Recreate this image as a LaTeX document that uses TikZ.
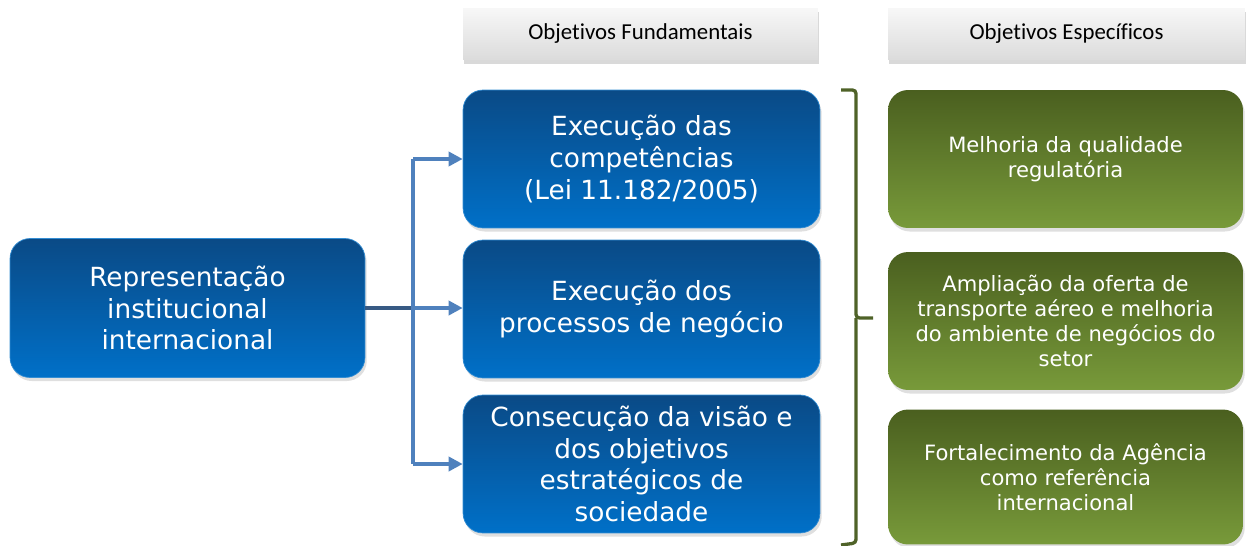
\documentclass[tikz,border=0pt]{standalone}
\usepackage{fontspec}
\setmainfont{DejaVu Sans}
\newfontfamily\headfont[Ligatures=NoCommon]{Carlito}
\usetikzlibrary{positioning,shadows,arrows.meta}

\definecolor{bluetop}{HTML}{0A4A86}
\definecolor{bluebot}{HTML}{0070C8}
\definecolor{greentop}{HTML}{4A5F1F}
\definecolor{greenbot}{HTML}{789A3A}
\definecolor{linkblue}{HTML}{4F81BD}
\definecolor{bracegreen}{HTML}{4F6228}

\tikzset{
  bluebox/.style={rounded corners=0.4cm, top color=bluetop, bottom color=bluebot,
    draw=bluebot!80!white, text=white, align=center, font=\fontsize{15}{18}\selectfont,
    minimum width=7.14cm, minimum height=2.76cm, inner sep=2pt,
    drop shadow={shadow xshift=1pt, shadow yshift=-2pt, opacity=0.25}},
  greenbox/.style={rounded corners=0.4cm, top color=greentop, bottom color=greenbot,
    draw=none, text=white, align=center, font=\fontsize{12}{14.2}\selectfont,
    minimum width=7.1cm, minimum height=2.76cm, inner sep=2pt,
    drop shadow={shadow xshift=1pt, shadow yshift=-2pt, opacity=0.25}},
  headbox/.style={top color=gray!6, bottom color=gray!28, draw=none,
    font=\headfont\fontsize{13}{15}\selectfont,
    minimum width=7.1cm, minimum height=1.04cm,
    drop shadow={shadow xshift=0.5pt, shadow yshift=-2pt, opacity=0.3}},
  link/.style={draw=linkblue, line width=2pt},
  tip/.style={-{Triangle[length=8pt,width=8pt]}},
}

\begin{document}
\begin{tikzpicture}[x=0.02cm,y=-0.02cm]
    \useasboundingbox (0,0) rectangle (1251,545);

    % headers
    \node[headbox] (headF) at (640.5,34) {Objetivos Fundamentais};
    \node[headbox, minimum width=7.14cm] (headE) at (1066.5,34) {Objetivos Específicos};

    % blue boxes
    \node[bluebox, minimum width=7.1cm, minimum height=2.78cm] (rep) at (187.5,308)
        {Representação\\institucional\\internacional};
    \node[bluebox] (exec1) at (641.5,159) {Execução das\\competências\\(Lei 11.182/2005)};
    \node[bluebox] (exec2) at (641.5,309) {Execução dos\\processos de negócio};
    \node[bluebox] (exec3) at (641.5,464) {Consecução da visão e\\dos objetivos\\estratégicos de\\sociedade};

    % green boxes
    \node[greenbox] (spec1) at (1065.5,159) {Melhoria da qualidade\\regulatória};
    \node[greenbox] (spec2) at (1065.5,321) {Ampliação da oferta de\\transporte aéreo e melhoria\\do ambiente de negócios do\\setor};
    \node[greenbox, minimum height=2.7cm] (spec3) at (1065.5,477) {Fortalecimento da Agência\\como referência\\internacional};

    % connectors
    \coordinate (split) at (413,308);
    \draw[link, draw=linkblue!70!black] (rep.east) -- (split);
    \draw[link] (split |- exec1.west) -- (split |- exec3.west);
    \draw[link, tip] (split |- exec1.west) -- (exec1.west);
    \draw[link, tip] (split) -- (split -| exec2.west);
    \draw[link, tip] (split |- exec3.west) -- (exec3.west);

    % brace
    \coordinate (braceT) at (841,90);
    \coordinate (braceB) at (841,545);
    \coordinate (braceM) at (873,318);
    \draw[bracegreen, line width=1.9pt, rounded corners=2pt]
        (braceT) -- (856,90) -- (856,318) -- (braceM);
    \draw[bracegreen, line width=1.9pt, rounded corners=2pt]
        (856,318) -- (856,543) -- (braceB);
\end{tikzpicture}
\end{document}
